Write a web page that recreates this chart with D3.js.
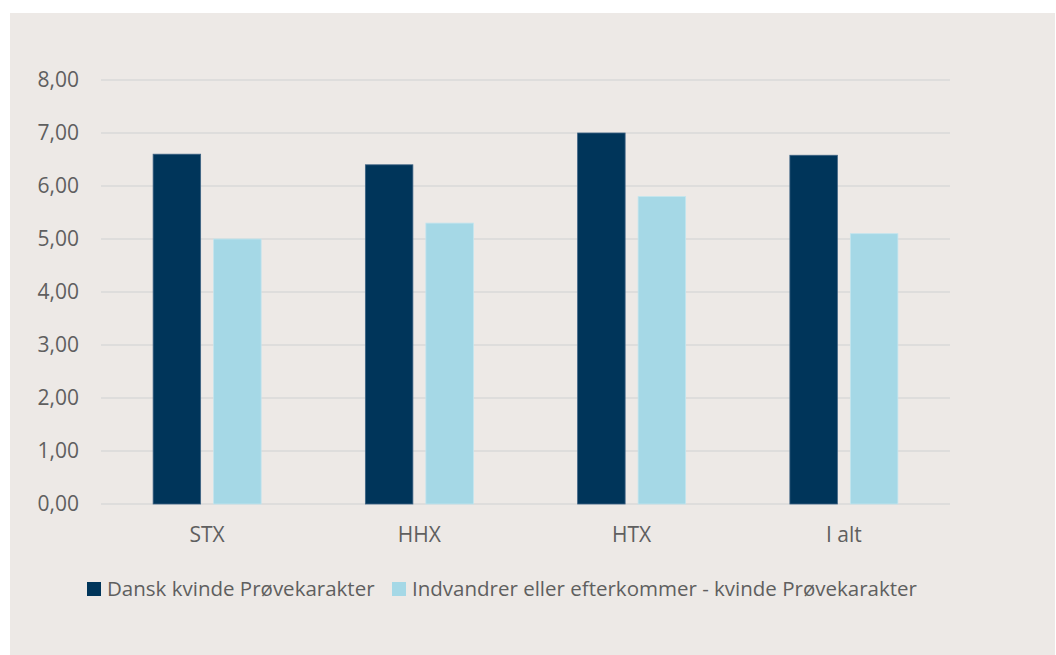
<!DOCTYPE html>
<html>
<head>
    <meta charset="utf-8">
    <title></title>
    <style>
        body { margin: 0; background: #ffffff; }
        text { font-family: "Open Sans", "Noto Sans", sans-serif; fill: #5f5f5f; }
    </style>
</head>
<body>
<div id="container"></div>

<script src="https://d3js.org/d3.v7.min.js" type="text/javascript"></script>
<script type="text/javascript">
    const categories = ['STX', 'HHX', 'HTX', 'I alt'];
    const seriesNames = ['Dansk kvinde Prøvekarakter', 'Indvandrer eller efterkommer - kvinde Prøvekarakter'];
    const danskValues = [6.60, 6.40, 7.00, 6.58];
    const indvandrerValues = [5.00, 5.30, 5.80, 5.10];
    const yTicks = [0, 1, 2, 3, 4, 5, 6, 7, 8];
    const colors = ['#00355a', '#a5d8e6'];

    const w = 1056;
    const h = 655;
    const margin = { top: 80, left: 101, right: 106, bottom: 151 };

    const svg = d3.select('#container')
        .append('svg')
        .attr('width', w)
        .attr('height', h);

    // beige panel
    svg.append('rect')
        .attr('x', 10)
        .attr('y', 13)
        .attr('width', 1045)
        .attr('height', h - 13)
        .style('fill', '#ede9e6');

    const main = svg.append('g').attr('transform', `translate(${margin.left}, ${margin.top})`);
    const main_w = w - margin.left - margin.right;
    const main_h = h - margin.top - margin.bottom;

    const y = d3.scaleLinear().domain([0, 8]).range([main_h, 0]);
    const x0 = d3.scaleBand().domain(categories).range([0, main_w]);

    // gridlines
    main.append('g')
        .selectAll('line')
        .data(yTicks)
        .join('line')
        .attr('x1', 0)
        .attr('x2', main_w)
        .attr('y1', d => y(d))
        .attr('y2', d => y(d))
        .style('stroke', '#d9d9d9')
        .style('stroke-width', 1.5);

    // y axis labels
    const yAxis = d3.axisLeft(y)
        .tickValues(yTicks)
        .tickSize(0)
        .tickPadding(22)
        .tickFormat(d => d3.format('.2f')(d).replace('.', ','));
    main.append('g')
        .call(yAxis)
        .call(g => g.select('.domain').remove())
        .selectAll('text')
        .style('font-size', '21px')
        .style('font-family', '"Open Sans", sans-serif')
        .attr('fill', '#5f5f5f');

    // bars
    const barW = 47.5;
    const gap = 13;
    const series = [danskValues, indvandrerValues];
    series.forEach((vals, si) => {
        main.append('g')
            .selectAll('rect')
            .data(vals)
            .join('rect')
            .attr('x', (d, i) => x0(categories[i]) + x0.bandwidth() / 2 - barW - gap / 2 + si * (barW + gap))
            .attr('y', d => y(d))
            .attr('width', barW)
            .attr('height', d => main_h - y(d))
            .style('fill', colors[si])
            .style('stroke', si === 0 ? '#3d6283' : '#c3e5ee')
            .style('stroke-width', 0.8);
    });

    // category labels
    main.append('g')
        .selectAll('text')
        .data(categories)
        .join('text')
        .attr('x', d => x0(d) + x0.bandwidth() / 2)
        .attr('y', main_h + 38)
        .attr('text-anchor', 'middle')
        .style('font-size', '21px')
        .text(d => d);

    // legend
    const legend = svg.append('g').attr('transform', 'translate(87, 589)');
    const legendX = [0, 305];
    seriesNames.forEach((name, i) => {
        const g = legend.append('g').attr('transform', `translate(${legendX[i]}, 0)`);
        g.append('rect')
            .attr('x', 0)
            .attr('y', -7)
            .attr('width', 14)
            .attr('height', 14)
            .style('fill', colors[i]);
        g.append('text')
            .attr('x', 20)
            .attr('y', 0)
            .attr('dy', '0.35em')
            .style('font-size', '20.5px')
            .text(name);
    });
</script>
</body>
</html>
